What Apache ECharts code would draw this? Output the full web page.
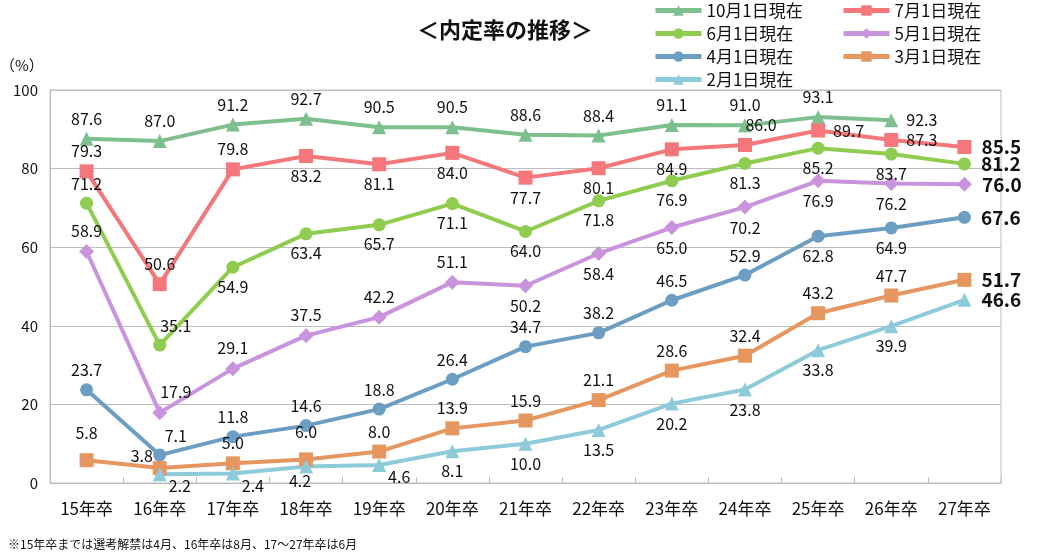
<!DOCTYPE html>
<html>
<head>
<meta charset="utf-8">
<script src="https://cdn.jsdelivr.net/npm/echarts@6/dist/echarts.min.js"></script>
<style>
  html, body { margin: 0; padding: 0; background: #fff; }
  #chart { width: 1042px; height: 556px; }
</style>
</head>
<body>
<div id="chart"></div>
<script>
const categories = ['15年卒', '16年卒', '17年卒', '18年卒', '19年卒', '20年卒', '21年卒', '22年卒', '23年卒', '24年卒', '25年卒', '26年卒', '27年卒']
const yTicks = [0, 20, 40, 60, 80, 100]

const oct1 = [87.6, 87.0, 91.2, 92.7, 90.5, 90.5, 88.6, 88.4, 91.1, 91.0, 93.1, 92.3, null]
const jul1 = [79.3, 50.6, 79.8, 83.2, 81.1, 84.0, 77.7, 80.1, 84.9, 86.0, 89.7, 87.3, 85.5]
const jun1 = [71.2, 35.1, 54.9, 63.4, 65.7, 71.1, 64.0, 71.8, 76.9, 81.3, 85.2, 83.7, 81.2]
const may1 = [58.9, 17.9, 29.1, 37.5, 42.2, 51.1, 50.2, 58.4, 65.0, 70.2, 76.9, 76.2, 76.0]
const apr1 = [23.7, 7.1, 11.8, 14.6, 18.8, 26.4, 34.7, 38.2, 46.5, 52.9, 62.8, 64.9, 67.6]
const mar1 = [5.8, 3.8, 5.0, 6.0, 8.0, 13.9, 15.9, 21.1, 28.6, 32.4, 43.2, 47.7, 51.7]
const feb1 = [null, 2.2, 2.4, 4.2, 4.6, 8.1, 10.0, 13.5, 20.2, 23.8, 33.8, 39.9, 46.6]

// label placement per point (t=top, b=bottom, r=right, tr/br/tl = shifted)
const pos = {
  oct: ['t', 't', 't', 't', 't', 't', 't', 't', 't', 't', 't', 'r', 't'],
  jul: ['t', 't', 't', 'b', 'b', 'b', 'b', 'b', 'b', 'tr', 'r', 'r', 'end'],
  jun: ['t', 'tr', 'b', 'b', 'b', 'b', 'b', 'b', 'b', 'b', 'b', 'b', 'end'],
  may: ['t', 'tr', 't', 't', 't', 't', 'b', 'b', 'b', 'b', 'b', 'b', 'end'],
  apr: ['t', 'tr', 't', 't', 't', 't', 't', 't', 't', 't', 'b', 'b', 'end'],
  mar: ['tt', 'tl', 't', 'tt', 't', 't', 't', 't', 't', 't', 't', 't', 'end'],
  feb: ['b', 'br', 'br', 'bc', 'br', 'b', 'b', 'b', 'b', 'b', 'b', 'b', 'end']
}

const font = '"Noto Sans CJK JP", "Noto Sans", sans-serif'

function labelFor(code) {
  switch (code) {
    case 't': return { position: 'top' }
    case 'tt': return { position: 'top', distance: 12 }
    case 'b': return { position: 'bottom' }
    case 'r': return { position: 'right', distance: 8 }
    case 'tr': return { position: 'top', offset: [16, 0] }
    case 'br': return { position: 'bottom', offset: [20, -8] }
    case 'bc': return { position: 'bottom', offset: [-6, -6] }
    case 'tl': return { position: 'top', offset: [-18, 8] }
    case 'end': return { position: 'right', distance: 10, fontSize: 19, fontWeight: 'bold' }
  }
}

function makeSeries(name, values, codes, color, symbol, size) {
  return {
    name,
    type: 'line',
    data: values.map((v, i) => ({ value: v, label: labelFor(codes[i]) })),
    symbol,
    symbolSize: size,
    connectNulls: false,
    lineStyle: { width: 4, color },
    itemStyle: { color },
    label: {
      show: true,
      color: '#111',
      fontSize: 16,
      fontFamily: font,
      formatter: p => p.value == null ? '' : p.value.toFixed(1)
    },
    emphasis: { disabled: true },
    animation: false
  }
}

const legendBase = {
  orient: 'vertical',
  top: -3,
  itemWidth: 46,
  itemHeight: 13,
  itemGap: 6,
  lineStyle: { width: 5 },
  textStyle: { fontSize: 17, color: '#111', fontFamily: font }
}

const chart = echarts.init(document.getElementById('chart'))
chart.setOption({
  animation: false,
  title: {
    text: '＜内定率の推移＞',
    left: 500,
    top: 14,
    textAlign: 'center',
    textStyle: { fontSize: 22, fontWeight: 'bold', color: '#111', fontFamily: font }
  },
  legend: [
    Object.assign({ data: ['10月1日現在', '6月1日現在', '4月1日現在', '2月1日現在'], left: 648 }, legendBase),
    Object.assign({ data: ['7月1日現在', '5月1日現在', '3月1日現在'], left: 836 }, legendBase)
  ],
  graphic: [
    { type: 'text', left: 0, top: 58, style: { text: '（%）', fontSize: 15, fill: '#111', fontFamily: font } },
    { type: 'text', left: 8, top: 538, style: { text: '※15年卒までは選考解禁は4月、16年卒は8月、17～27年卒は6月', fontSize: 12, fill: '#111', fontFamily: font } }
  ],
  grid: {
    left: 50, right: 41, top: 90, bottom: 73,
    show: true, borderColor: '#bdbdbd', borderWidth: 1
  },
  xAxis: {
    type: 'category',
    data: categories,
    boundaryGap: true,
    axisLine: { lineStyle: { color: '#bdbdbd' } },
    axisTick: { show: true, inside: true, length: 6, lineStyle: { color: '#bdbdbd' } },
    axisLabel: { fontSize: 17, color: '#111', fontFamily: font, margin: 17 }
  },
  yAxis: {
    type: 'value',
    min: yTicks[0],
    max: yTicks[yTicks.length - 1],
    interval: 20,
    axisLine: { show: true, lineStyle: { color: '#bdbdbd' } },
    axisTick: { show: false },
    splitLine: { lineStyle: { color: '#bdbdbd' } },
    axisLabel: { fontSize: 15, color: '#111', fontFamily: font, margin: 12 }
  },
  series: [
    makeSeries('10月1日現在', oct1, pos.oct, '#7dbf8e', 'triangle', 14),
    makeSeries('7月1日現在', jul1, pos.jul, '#f4777b', 'rect', 14),
    makeSeries('6月1日現在', jun1, pos.jun, '#8fcc4f', 'circle', 13),
    makeSeries('5月1日現在', may1, pos.may, '#c994dd', 'diamond', 15),
    makeSeries('4月1日現在', apr1, pos.apr, '#6b9ec2', 'circle', 13),
    makeSeries('3月1日現在', mar1, pos.mar, '#e5975f', 'rect', 14),
    makeSeries('2月1日現在', feb1, pos.feb, '#8dcbdb', 'triangle', 14)
  ]
})
window.addEventListener('resize', () => chart.resize())
</script>
</body>
</html>
